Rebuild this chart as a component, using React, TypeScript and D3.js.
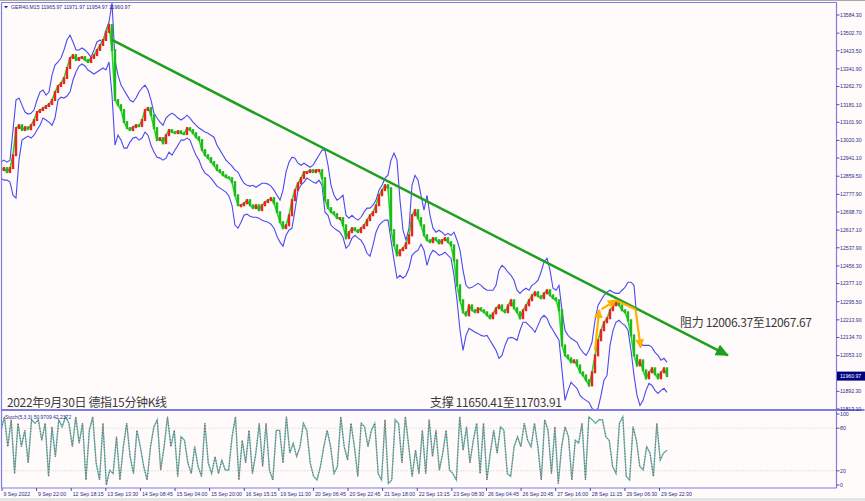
import React from "react";
import * as d3 from "d3";

const W = 865;
const H = 501;

// Close prices sampled along the time axis (GER40, M15)
const closes = [
  12887, 12896, 12878, 12896, 12954, 13076, 13089, 13067, 13080, 13071,
  13089, 13112, 13148, 13157, 13166, 13175, 13184, 13202, 13238, 13265,
  13278, 13301, 13346, 13391, 13404, 13382, 13391, 13395, 13382, 13373,
  13391, 13404, 13427, 13449, 13472, 13508, 13539, 13427, 13202, 13179,
  13157, 13103, 13076, 13067, 13080, 13089, 13085, 13112, 13157, 13166,
  13134, 13076, 13022, 13031, 13008, 13044, 13067, 13058, 13053, 13062,
  13053, 13049, 13076, 13067, 13053, 13035, 13022, 12977, 12954, 12941,
  12923, 12909, 12887, 12878, 12864, 12855, 12851, 12833, 12774, 12729,
  12729, 12738, 12752, 12729, 12716, 12729, 12707, 12729, 12743, 12752,
  12761, 12738, 12698, 12653, 12626, 12639, 12684, 12752, 12797, 12828,
  12851, 12878, 12878, 12887, 12878, 12887, 12887, 12851, 12752, 12716,
  12698, 12689, 12671, 12671, 12639, 12581, 12608, 12626, 12617, 12608,
  12626, 12639, 12662, 12684, 12698, 12729, 12774, 12797, 12819, 12806,
  12617, 12549, 12504, 12527, 12536, 12558, 12594, 12684, 12707, 12671,
  12639, 12594, 12572, 12563, 12581, 12572, 12558, 12572, 12581, 12563,
  12549, 12482, 12369, 12302, 12248, 12234, 12279, 12257, 12248, 12266,
  12257, 12248, 12234, 12221, 12243, 12266, 12279, 12257, 12248, 12279,
  12302, 12266, 12248, 12221, 12257, 12279, 12302, 12324, 12338, 12320,
  12311, 12333, 12347, 12324, 12311, 12302, 12257, 12099, 12054, 12041,
  12023, 12032, 12009, 11978, 11964, 11942, 11919, 11978, 12054, 12122,
  12167, 12203, 12221, 12257, 12279, 12293, 12279, 12257, 12248, 12212,
  12144, 12054, 12009, 12032, 11987, 11951, 11978, 11996, 11969, 11951,
  11978, 11996, 11961,
];

// Bollinger upper band
const upperBand = [
  12923, 12932, 12923, 12932, 13067, 13202, 13211, 13179, 13148, 13139,
  13143, 13157, 13202, 13238, 13247, 13224, 13238, 13314, 13359, 13373,
  13391, 13427, 13472, 13494, 13463, 13427, 13427, 13436, 13427, 13413,
  13395, 13427, 13463, 13472, 13458, 13517, 13553, 13638, 13382, 13314,
  13269, 13247, 13224, 13202, 13193, 13211, 13238, 13256, 13269, 13247,
  13202, 13143, 13121, 13103, 13089, 13121, 13134, 13143, 13134, 13121,
  13112, 13121, 13134, 13121, 13103, 13089, 13076, 13067, 13058, 13053,
  13044, 13035, 12999, 12977, 12954, 12932, 12918, 12905, 12887, 12878,
  12851, 12828, 12819, 12815, 12819, 12810, 12819, 12828, 12828, 12824,
  12815, 12797, 12774, 12752, 12797, 12878, 12923, 12945, 12941, 12918,
  12909, 12918, 12909, 12900, 12909, 12932, 12954, 12977, 12977, 12909,
  12819, 12774, 12752, 12761, 12774, 12684, 12671, 12684, 12671, 12662,
  12675, 12698, 12716, 12716, 12729, 12752, 12797, 12819, 12851, 12864,
  12932, 12963, 12932, 12752, 12617, 12572, 12626, 12819, 12864, 12842,
  12774, 12707, 12774, 12684, 12626, 12608, 12617, 12608, 12594, 12603,
  12594, 12608, 12572, 12527, 12437, 12369, 12356, 12360, 12369, 12378,
  12369, 12356, 12347, 12347, 12347, 12369, 12437, 12459, 12446, 12428,
  12414, 12392, 12347, 12333, 12347, 12356, 12347, 12369, 12378, 12392,
  12428, 12473, 12491, 12437, 12356, 12347, 12369, 12257, 12167, 12144,
  12131, 12122, 12113, 12086, 12068, 12054, 12077, 12113, 12212, 12279,
  12302, 12324, 12338, 12347, 12338, 12333, 12333, 12347, 12360, 12383,
  12383, 12369, 12212, 12113, 12099, 12099, 12099, 12090, 12068, 12054,
  12032, 12041, 12023,
];

// Bollinger lower band
const lowerBand = [
  12851, 12842, 12842, 12833, 12774, 12761, 12932, 13022, 13031, 13040,
  13031, 13044, 13067, 13089, 13121, 13112, 13103, 13089, 13121, 13202,
  13215, 13211, 13220, 13238, 13292, 13328, 13355, 13364, 13355, 13337,
  13328, 13319, 13328, 13337, 13346, 13337, 13373, 13224, 12999, 13044,
  13022, 12986, 12986, 13013, 13031, 13035, 13022, 13031, 13058, 13044,
  12999, 12968, 12945, 12941, 12932, 12941, 12968, 12954, 12977, 12999,
  13022, 13022, 13031, 13022, 12986, 12954, 12932, 12896, 12873, 12864,
  12851, 12833, 12815, 12806, 12797, 12788, 12770, 12729, 12639, 12626,
  12653, 12684, 12689, 12680, 12675, 12675, 12671, 12662, 12657, 12653,
  12644, 12626, 12590, 12563, 12545, 12594, 12617, 12626, 12707, 12797,
  12819, 12833, 12851, 12842, 12833, 12828, 12842, 12819, 12698, 12684,
  12639, 12626, 12617, 12608, 12585, 12536, 12549, 12581, 12594, 12581,
  12572, 12549, 12513, 12500, 12549, 12608, 12639, 12653, 12662, 12662,
  12572, 12482, 12401, 12414, 12401, 12414, 12446, 12504, 12518, 12527,
  12554, 12527, 12459, 12504, 12527, 12518, 12504, 12509, 12518, 12504,
  12491, 12414, 12302, 12167, 12077, 12144, 12176, 12167, 12158, 12153,
  12144, 12140, 12144, 12122, 12099, 12077, 12041, 12054, 12099, 12131,
  12135, 12131, 12122, 12167, 12203, 12203, 12189, 12176, 12158, 12189,
  12221, 12234, 12221, 12189, 12167, 12144, 12122, 11987, 11852, 11897,
  11933, 11919, 11906, 11874, 11861, 11852, 11843, 11816, 11807, 11816,
  11874, 11942, 11964, 12099, 12167, 12203, 12212, 12198, 12189, 12167,
  12077, 11964, 11874, 11829, 11852, 11897, 11928, 11919, 11897, 11883,
  11897, 11906, 11888,
];

// Stochastic %K (5,3,3)
const stochK = [
  77, 96, 54, 92, 16, 87, 54, 77, 31, 92, 87, 92, 63, 87, 12, 82, 40, 92, 82, 96,
  87, 54, 96, 59, 87, 7, 77, 96, 31, 7, 87, 0, 21, 16, 68, 7, 54, 87, 40, 16,
  77, 54, 26, 7, 54, 82, 92, 21, 54, 96, 54, 77, 12, 68, 63, 31, 16, 54, 26, 12,
  87, 31, 16, 40, 16, 35, 21, 21, 68, 96, 7, 63, 31, 77, 16, 45, 87, 26, 87, 21,
  7, 77, 77, 31, 96, 45, 59, 40, 54, 87, 77, 31, 12, 7, 26, 54, 77, 54, 16, 26,
  96, 54, 35, 87, 54, 12, 87, 82, 54, 77, 87, 16, 7, 92, 2, 7, 92, 87, 31, 96,
  54, 12, 49, 16, 77, 16, 92, 40, 77, 21, 45, 77, 21, 16, 7, 96, 49, 82, 31, 63,
  87, 16, 87, 7, 45, 77, 45, 82, 77, 16, 12, 54, 68, 54, 87, 63, 54, 87, 54, 7,
  92, 77, 16, 82, 2, 54, 82, 68, 7, 63, 59, 87, 7, 96, 92, 87, 92, 92, 68, 63,
  26, 16, 87, 96, 12, 7, 82, 63, 26, 21, 54, 45, 12, 87, 35, 45, 49,
];

const priceTicks = [
  13584.3, 13502.7, 13423.5, 13341.9, 13262.7, 13181.1, 13101.9, 13020.3,
  12941.1, 12859.5, 12777.9, 12698.7, 12617.1, 12537.9, 12456.3, 12377.1,
  12295.5, 12213.9, 12134.7, 12053.1, 11892.3, 11813.1,
];
const currentPrice = 11960.97;
const stochLevels = [100, 80, 20, 0];
const stochGrid = [80, 20];
const dateLabels = [
  "9 Sep 2022", "9 Sep 22:00", "12 Sep 18:15", "13 Sep 13:30", "14 Sep 08:45",
  "15 Sep 04:00", "15 Sep 20:00", "16 Sep 15:15", "19 Sep 11:30", "20 Sep 06:45",
  "20 Sep 22:45", "21 Sep 18:00", "22 Sep 13:15", "23 Sep 08:30", "26 Sep 04:45",
  "26 Sep 20:45", "27 Sep 16:00", "28 Sep 11:15", "29 Sep 06:30", "29 Sep 22:30",
];
const barsPerLabel = 77;

// Drawn objects (sample index, price)
const trendLine = [
  { i: 37, p: 13472 },
  { i: 242.3, p: 12054 },
];
const orangeUp = [{ i: 198, p: 12077 }, { i: 199.4, p: 12258 }];
const orangeTop = [{ i: 200.2, p: 12262 }, { i: 205, p: 12302 }];
const orangeFlat = [{ i: 205, p: 12302 }, { i: 211.5, p: 12262 }];
const orangeDown = [{ i: 211.5, p: 12262 }, { i: 213.2, p: 12090 }];

const header = "GER40,M15  11965.97 11971.97 11954.97 11960.97";
const stochTitle = "Stoch(5,3,3) 50.9709 42.2372";
const titleText = "2022年9月30日 德指15分钟K线";
const supportText = "支撑 11650.41至11703.91";
const resistText = "阻力 12006.37至12067.67";

const AXIS = "#2a2a8a";
const FRAME = "#7d7de6";
const SMALL = "'Liberation Sans', Arial, sans-serif";
const CJK = "'Noto Sans CJK SC', 'Noto Sans', sans-serif";

export default function App() {
  const n = closes.length;
  const left = 1.5;
  const right = 836.5;
  const top = 2.5;
  const mainBottom = 410;
  const stochBottom = 488;

  const x = d3.scaleLinear().domain([0, n - 1]).range([1, 667]);
  const y = d3.scaleLinear().domain([11813.1, 13584.3]).range([409, 15]);
  const xs = d3.scaleLinear().domain([0, stochK.length - 1]).range([1, 667]);
  const ys = d3.scaleLinear().domain([0, 100]).range([485, 414]);
  const xd = d3
    .scaleLinear()
    .domain([0, barsPerLabel * (dateLabels.length - 1)])
    .range([2, 659.5]);

  const line = d3
    .line<number>()
    .x((_, i) => x(i))
    .y((d) => y(d));
  const sLine = d3
    .line<number>()
    .x((_, i) => xs(i))
    .y((d) => ys(d));
  const pLine = d3
    .line<{ i: number; p: number }>()
    .x((d) => x(d.i))
    .y((d) => y(d.p));

  const candles = closes.slice(1).map((c, k) => {
    const o = closes[k];
    const i = k + 1;
    const y1 = y(Math.max(o, c));
    const y2 = y(Math.min(o, c));
    return {
      i,
      up: c >= o,
      yTop: y1,
      h: Math.max(1, y2 - y1),
    };
  });

  const cjkProps = {
    fontFamily: CJK,
    fontSize: 12,
    letterSpacing: -0.35,
    fill: "#3a3a3a",
  };

  return (
    <svg
      width={W}
      height={H}
      style={{ position: "absolute", left: 0, top: 0, display: "block" }}
    >
      <defs>
        <clipPath id="mainClip">
          <rect x={left} y={top} width={right - left} height={mainBottom - top} />
        </clipPath>
        <clipPath id="stochClip">
          <rect x={left} y={mainBottom + 1} width={right - left} height={stochBottom - mainBottom - 1} />
        </clipPath>
        <marker
          id="greenHead"
          markerUnits="userSpaceOnUse"
          markerWidth={14}
          markerHeight={12}
          refX={12}
          refY={6}
          orient="auto"
        >
          <path d="M0,0 L13,6 L0,12 Z" fill="#1f9f1f" />
        </marker>
        <marker
          id="orangeHead"
          markerUnits="userSpaceOnUse"
          markerWidth={10}
          markerHeight={9}
          refX={8}
          refY={4.5}
          orient="auto"
        >
          <path d="M0,0 L9,4.5 L0,9 Z" fill="#ffb000" />
        </marker>
      </defs>

      <rect x={0} y={0} width={W} height={H} fill="#fffbfb" />
      <rect x={0} y={0} width={W} height={1} fill="#a8a8a8" />
      <rect x={0} y={498} width={W} height={3} fill="#e4e4e4" />

      {/* main panel content */}
      <g clipPath="url(#mainClip)">
        <path d={line(upperBand) || ""} fill="none" stroke="#4a4af2" strokeWidth={1.1} />
        <path d={line(lowerBand) || ""} fill="none" stroke="#4a4af2" strokeWidth={1.1} />
        <path d={line(closes) || ""} fill="none" stroke="#22dd22" strokeWidth={1.6} />
        {candles.map((c) => (
          <rect
            key={c.i}
            x={x(c.i) - 1.2}
            y={c.yTop - 1}
            width={2.4}
            height={c.h + 2}
            fill={c.up ? "#ee2222" : "#1fb81f"}
          />
        ))}
        <path
          d={pLine(trendLine) || ""}
          fill="none"
          stroke="#1f9f1f"
          strokeWidth={2.5}
          markerEnd="url(#greenHead)"
        />
        <path d={pLine(orangeUp) || ""} fill="none" stroke="#ffb000" strokeWidth={2.2} markerEnd="url(#orangeHead)" />
        <path d={pLine(orangeTop) || ""} fill="none" stroke="#ffb000" strokeWidth={2.2} markerEnd="url(#orangeHead)" />
        <path d={pLine(orangeFlat) || ""} fill="none" stroke="#ffb000" strokeWidth={2.2} />
        <path d={pLine(orangeDown) || ""} fill="none" stroke="#ffb000" strokeWidth={2.2} markerEnd="url(#orangeHead)" />
      </g>

      {/* annotations */}
      <text x={7} y={407} {...cjkProps}>
        {titleText}
      </text>
      <text x={430} y={407} {...cjkProps}>
        {supportText}
      </text>
      <text x={680} y={327} {...cjkProps}>
        {resistText}
      </text>

      {/* header */}
      <path d="M4,6 L8,6 L6,8.5 Z" fill={AXIS} />
      <text x={11} y={9} fontFamily={SMALL} fontSize={5.2} fill={AXIS}>
        {header}
      </text>

      {/* stochastic */}
      {stochGrid.map((v) => (
        <line
          key={v}
          x1={left}
          x2={right}
          y1={ys(v)}
          y2={ys(v)}
          stroke="#bdbdbd"
          strokeWidth={0.8}
          strokeDasharray="1,2"
        />
      ))}
      <g clipPath="url(#stochClip)">
        <path d={sLine(stochK) || ""} fill="none" stroke="#4fd0c8" strokeWidth={1.4} />
        <path
          d={sLine(stochK) || ""}
          fill="none"
          stroke="#ee2a2a"
          strokeWidth={1}
          strokeDasharray="1,1.8"
        />
      </g>
      <text x={5} y={419} fontFamily={SMALL} fontSize={5} fill={AXIS}>
        {stochTitle}
      </text>

      {/* frame */}
      <line x1={left} x2={left} y1={top} y2={stochBottom} stroke={FRAME} strokeWidth={1.2} />
      <line x1={left} x2={right} y1={top} y2={top} stroke={FRAME} strokeWidth={1} />
      <line x1={right} x2={right} y1={top} y2={stochBottom} stroke={FRAME} strokeWidth={1.2} />
      <line x1={left} x2={right + 28} y1={mainBottom} y2={mainBottom} stroke={FRAME} strokeWidth={2} />
      <line x1={left} x2={right} y1={stochBottom} y2={stochBottom} stroke={FRAME} strokeWidth={1.2} />

      {/* price axis */}
      {priceTicks.map((p) => (
        <g key={p}>
          <line x1={right} x2={right + 3} y1={y(p)} y2={y(p)} stroke={AXIS} strokeWidth={0.8} />
          <text
            x={840}
            y={y(p)}
            dy="0.35em"
            fontFamily={SMALL}
            fontSize={5.2}
            fill={AXIS}
          >
            {p.toFixed(2)}
          </text>
        </g>
      ))}
      <rect x={837} y={y(currentPrice) - 4.5} width={28} height={9} fill="#000080" />
      <text
        x={840}
        y={y(currentPrice)}
        dy="0.35em"
        fontFamily={SMALL}
        fontSize={5.2}
        fill="#ffffff"
      >
        {currentPrice.toFixed(2)}
      </text>

      {/* stochastic axis */}
      {stochLevels.map((v) => (
        <g key={v}>
          <line x1={right} x2={right + 3} y1={ys(v)} y2={ys(v)} stroke={AXIS} strokeWidth={0.8} />
          <text x={840} y={ys(v)} dy="0.35em" fontFamily={SMALL} fontSize={5.2} fill={AXIS}>
            {v}
          </text>
        </g>
      ))}

      {/* time axis */}
      {dateLabels.map((d, k) => {
        const px = xd(k * barsPerLabel);
        return (
          <g key={d}>
            <line x1={px} x2={px} y1={stochBottom} y2={stochBottom + 3} stroke={AXIS} strokeWidth={0.8} />
            <text x={px + 1.5} y={495.5} fontFamily={SMALL} fontSize={5.2} fill={AXIS}>
              {d}
            </text>
          </g>
        );
      })}
    </svg>
  );
}
